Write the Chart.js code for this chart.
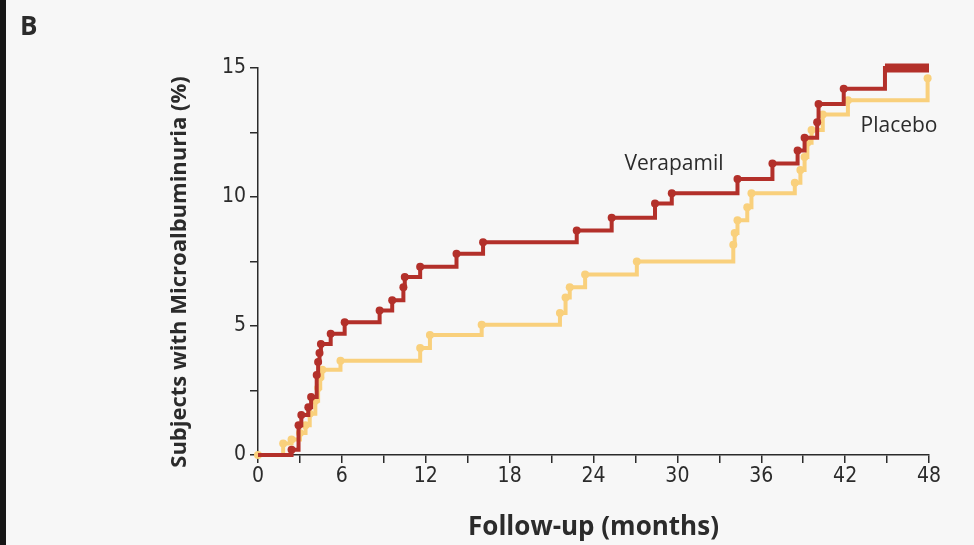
<!DOCTYPE html>
<html>
<head>
<meta charset="utf-8">
<script src="https://cdn.jsdelivr.net/npm/chart.js@4/dist/chart.umd.min.js"></script>
<style>
  html, body { margin: 0; padding: 0; background: #f7f7f7; }
  #wrap { position: relative; width: 974px; height: 545px; }
  #edge { position: absolute; left: 0; top: 0; width: 6px; height: 545px; background: #161616; }
</style>
</head>
<body>
<div id="wrap">
  <canvas id="chart" width="974" height="545"></canvas>
  <div id="edge"></div>
</div>
<script>
'use strict';

// Kaplan-Meier style cumulative incidence
var verapamilMonths = [0, 2.4, 2.9, 3.1, 3.6, 3.8, 4.2, 4.3, 4.4, 4.5, 5.2, 6.2, 8.7, 9.6, 10.4, 10.5, 11.6, 14.2, 16.1, 22.8, 25.3, 28.4, 29.6, 34.3, 36.8, 38.6, 39.1, 40.0, 40.1, 41.9, 44.85, 48];
var verapamilPct    = [0, 0.2, 1.15, 1.55, 1.85, 2.25, 3.1, 3.6, 3.95, 4.3, 4.7, 5.15, 5.6, 6.0, 6.5, 6.9, 7.3, 7.8, 8.25, 8.7, 9.2, 9.75, 10.15, 10.7, 11.3, 11.8, 12.3, 12.9, 13.6, 14.2, 15.0, 15.0];

var placeboMonths = [0, 1.8, 2.4, 3.0, 3.4, 3.7, 4.1, 4.3, 4.45, 4.6, 5.9, 11.6, 12.3, 16.0, 21.6, 22.0, 22.3, 23.4, 27.1, 34.0, 34.1, 34.3, 35.0, 35.3, 38.4, 38.8, 39.1, 39.3, 39.6, 40.4, 42.2, 47.9];
var placeboPct    = [0, 0.45, 0.6, 0.85, 1.15, 1.6, 2.1, 2.6, 3.0, 3.3, 3.65, 4.15, 4.65, 5.05, 5.5, 6.1, 6.5, 7.0, 7.5, 8.15, 8.6, 9.1, 9.6, 10.15, 10.55, 11.05, 11.55, 12.1, 12.6, 13.2, 13.75, 14.6];

var xTickStep = 3, xLabelEvery = 6;
var yTickStep = 2.5, yLabelEvery = 5;

var RED = '#b3302a';
var YELLOW = '#f9d07c';
var INK = '#2b2b2b';
var TICK_FONT = '"Liberation Sans Narrow", "DejaVu Sans Condensed", "Open Sans", sans-serif';
var TITLE_FONT = '"Open Sans", "Noto Sans", sans-serif';

function toPoints(xs, ys) {
    return xs.map(function (x, i) { return { x: x, y: ys[i] }; });
}

var lastRed = verapamilMonths.length - 1;

var textPlugin = {
    id: 'figureText',
    afterDraw: function (chart) {
        var ctx = chart.ctx;
        ctx.save();
        ctx.fillStyle = INK;
        ctx.textBaseline = 'middle';

        ctx.font = 'bold 26px ' + TITLE_FONT;
        ctx.textAlign = 'left';
        ctx.fillText('B', 20, 28);

        ctx.font = '21px ' + TITLE_FONT;
        ctx.textAlign = 'center';
        ctx.fillText('Verapamil', 674, 164);
        ctx.fillText('Placebo', 899, 126);

        ctx.translate(180, 272);
        ctx.rotate(-Math.PI / 2);
        ctx.font = 'bold 22px ' + TITLE_FONT;
        ctx.fillText('Subjects with Microalbuminuria (%)', 0, 0);
        ctx.restore();
    }
};

var ctx = document.getElementById('chart');

var myChart = new Chart(ctx, {
    type: 'line',
    data: {
        datasets: [{
            label: 'Verapamil',
            data: toPoints(verapamilMonths, verapamilPct),
            borderColor: RED,
            backgroundColor: RED,
            borderWidth: 4,
            stepped: 'before',
            clip: false,
            pointBorderWidth: 0,
            pointRadius: function (c) {
                return (c.dataIndex === 0 || c.dataIndex >= lastRed - 1) ? 0 : 4;
            }
        }, {
            // final plateau of the verapamil curve is printed heavier
            label: 'Verapamil end',
            data: toPoints(verapamilMonths.slice(lastRed - 1), verapamilPct.slice(lastRed - 1)),
            borderColor: RED,
            borderWidth: 9,
            borderCapStyle: 'butt',
            clip: false,
            pointRadius: 0
        }, {
            label: 'Placebo',
            data: toPoints(placeboMonths, placeboPct),
            borderColor: YELLOW,
            backgroundColor: YELLOW,
            borderWidth: 4,
            stepped: 'before',
            clip: false,
            pointBorderWidth: 0,
            pointRadius: 4
        }]
    },
    options: {
        responsive: false,
        animation: false,
        layout: { padding: { left: 0, top: 68, right: 45, bottom: 0 } },
        plugins: {
            legend: { display: false },
            tooltip: { enabled: false }
        },
        scales: {
            x: {
                type: 'linear',
                min: 0,
                max: 48,
                afterFit: function (scale) { scale.height = 90; },
                border: { color: INK, width: 1.5 },
                grid: { drawOnChartArea: false, drawTicks: true, tickLength: 8, color: INK, lineWidth: 1.5 },
                ticks: {
                    stepSize: xTickStep,
                    autoSkip: false,
                    maxRotation: 0,
                    padding: 1,
                    color: INK,
                    font: { family: TICK_FONT, size: 21 },
                    callback: function (v) { return v % xLabelEvery === 0 ? v : ''; }
                },
                title: {
                    display: true,
                    text: 'Follow-up (months)',
                    color: INK,
                    font: { family: TITLE_FONT, size: 26, weight: 'bold' },
                    padding: { top: 0, bottom: 2 }
                }
            },
            y: {
                min: 0,
                max: 15,
                afterFit: function (scale) { scale.width = 258; },
                border: { color: INK, width: 1.5 },
                grid: { drawOnChartArea: false, drawTicks: true, tickLength: 8, color: INK, lineWidth: 1.5 },
                ticks: {
                    stepSize: yTickStep,
                    autoSkip: false,
                    padding: 4,
                    color: INK,
                    font: { family: TICK_FONT, size: 21 },
                    callback: function (v) { return v % yLabelEvery === 0 ? v : ''; }
                }
            }
        }
    },
    plugins: [textPlugin]
});
</script>
</body>
</html>
